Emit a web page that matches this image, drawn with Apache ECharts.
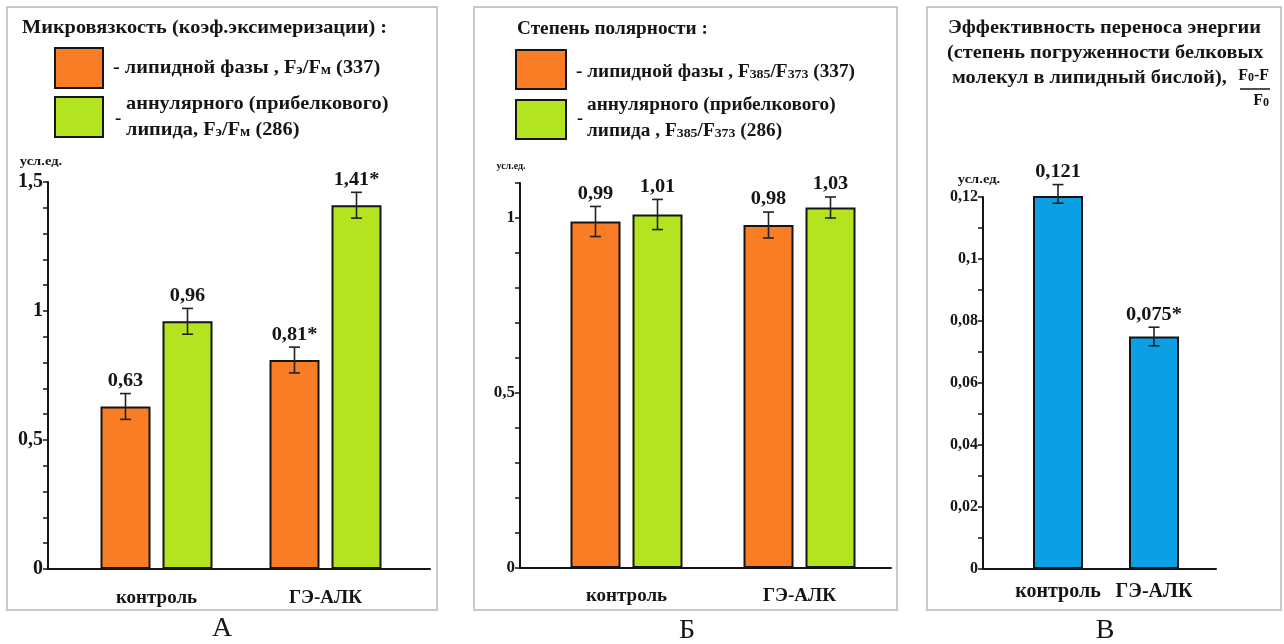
<!DOCTYPE html>
<html>
<head>
<meta charset="utf-8">
<script src="https://cdn.jsdelivr.net/npm/echarts@6/dist/echarts.min.js"></script>
<style>
  html, body { margin: 0; padding: 0; background: #ffffff; }
  #chart { width: 1284px; height: 644px; }
</style>
</head>
<body>
<div id="chart"></div>
<script>
// ---- data ----
const categories = ['контроль', 'ГЭ-АЛК'];

// A: microviscosity (excimerization coefficient)
const viscLipid = [0.63, 0.81];
const viscLipidErr = [0.05, 0.05];
const viscLipidSig = [false, true];
const viscAnnular = [0.96, 1.41];
const viscAnnularErr = [0.05, 0.05];
const viscAnnularSig = [false, true];
const viscTicks = [0, 0.5, 1, 1.5];

// Б: polarity
const polLipid = [0.99, 0.98];
const polLipidErr = [0.043, 0.037];
const polLipidSig = [false, false];
const polAnnular = [1.01, 1.03];
const polAnnularErr = [0.043, 0.03];
const polAnnularSig = [false, false];
const polTicks = [0, 0.5, 1];

// В: energy transfer efficiency
const transfer = [0.121, 0.075];
const transferErr = [0.003, 0.003];
const transferSig = [false, true];
const transferTicks = [0, 0.02, 0.04, 0.06, 0.08, 0.1, 0.12];

// ---- styling ----
const SERIF = '"Liberation Serif", "Times New Roman", serif';
const ORANGE = '#F97D24';
const GREEN = '#B4E31F';
const BLUE = '#0C9FE4';
const INK = '#151515';
const BAR_W = 50;
const BAR_GAP_PX = 12;
const WIDE = 1.07; // slightly widened lettering for headings

const fmt = v => String(+v.toFixed(4)).replace('.', ',');

function tickFormatter(list) {
  return v => list.some(t => Math.abs(t - v) < 1e-9) ? fmt(v) : '';
}

// axis-only grid + bar grid sharing the same value scale
function axisPair(gridIdx, max, interval, ticks, labelSize, catMargin, catSize) {
  return {
    x: [
      {
        gridIndex: gridIdx, type: 'category', data: [''],
        axisLine: { show: true, lineStyle: { color: INK, width: 2 } },
        axisTick: { show: false }, axisLabel: { show: false }
      },
      {
        gridIndex: gridIdx + 1, type: 'category', data: categories,
        axisLine: { show: false }, axisTick: { show: false },
        axisLabel: {
          interval: 0, hideOverlap: false, margin: catMargin, color: INK,
          fontFamily: SERIF, fontWeight: 'bold', fontSize: catSize
        }
      }
    ],
    y: [
      {
        gridIndex: gridIdx, type: 'value', min: 0, max: max, interval: interval,
        axisLine: { show: true, lineStyle: { color: INK, width: 2 } },
        axisTick: { show: true, length: 5, lineStyle: { color: INK, width: 1.5 } },
        splitLine: { show: false },
        axisLabel: {
          margin: 5, color: INK, fontFamily: SERIF, fontWeight: 'bold', fontSize: labelSize,
          formatter: tickFormatter(ticks), showMaxLabel: true
        }
      },
      {
        gridIndex: gridIdx + 1, type: 'value', min: 0, max: max, interval: interval,
        show: false, splitLine: { show: false }
      }
    ]
  };
}

function barSeries(axisIdx, values, color) {
  return {
    type: 'bar', xAxisIndex: axisIdx, yAxisIndex: axisIdx,
    data: values, barWidth: BAR_W, barGap: (BAR_GAP_PX / BAR_W * 100) + '%',
    itemStyle: { color: color, borderColor: INK, borderWidth: 2 },
    animation: false
  };
}

// error bar + value label drawn above it
function errorSeries(axisIdx, values, errs, sig, offset) {
  return {
    type: 'custom', xAxisIndex: axisIdx, yAxisIndex: axisIdx,
    data: values.map((v, i) => [i, v, errs[i]]),
    z: 10, animation: false,
    renderItem: function (params, api) {
      const i = api.value(0), v = api.value(1), e = api.value(2);
      const top = api.coord([i, v + e]);
      const bot = api.coord([i, v - e]);
      const x = top[0] + offset;
      const cap = 5.5;
      const st = { stroke: '#222', lineWidth: 1.6 };
      const label = fmt(v) + (sig[params.dataIndex] ? '*' : '');
      return {
        type: 'group',
        children: [
          { type: 'line', shape: { x1: x, y1: top[1], x2: x, y2: bot[1] }, style: st },
          { type: 'line', shape: { x1: x - cap, y1: top[1], x2: x + cap, y2: top[1] }, style: st },
          { type: 'line', shape: { x1: x - cap, y1: bot[1], x2: x + cap, y2: bot[1] }, style: st },
          {
            type: 'text', x: x, y: top[1] - 3, scaleX: WIDE,
            style: {
              text: label, align: 'center', verticalAlign: 'bottom',
              font: 'bold 19px ' + SERIF, fill: INK
            }
          }
        ]
      };
    }
  };
}

const pA = axisPair(0, 1.5, 0.1, viscTicks, 20, 20, 19);
const pB = axisPair(2, 1.1, 0.1, polTicks, 17, 19, 19);
const pC = axisPair(4, 0.12, 0.01, transferTicks, 16, 13, 20);

const half = (BAR_W + BAR_GAP_PX) / 2;

// ---- frames, headings, legends ----
function box(x1, y1, x2, y2) {
  return { type: 'rect', shape: { x: x1, y: y1, width: x2 - x1, height: y2 - y1 },
    style: { fill: 'none', stroke: '#c9c9c9', lineWidth: 2 }, z: 0 };
}
function txt(x, y, text, size, opts) {
  opts = opts || {};
  return {
    type: 'text', x: x, y: y, z: 5, scaleX: opts.scaleX || 1,
    style: {
      text: text, font: (opts.weight || 'bold') + ' ' + size + 'px ' + SERIF,
      fill: INK, align: opts.align || 'left', verticalAlign: 'middle',
      rich: opts.rich
    }
  };
}
function swatch(x, y, w, h, color) {
  return { type: 'rect', shape: { x: x, y: y, width: w, height: h }, z: 5,
    style: { fill: color, stroke: INK, lineWidth: 2 } };
}
const subRich = (size) => ({
  s: { font: 'bold ' + Math.round(size * 0.72) + 'px ' + SERIF, fill: INK, verticalAlign: 'bottom', padding: [4, 0, 0, 0] }
});
const H = { scaleX: WIDE };
const HR = (size) => ({ scaleX: WIDE, rich: subRich(size) });

const graphics = [
  box(7, 7, 437, 610),
  box(474, 7, 897, 610),
  box(927, 7, 1281, 610),

  // A
  txt(22, 28, 'Микровязкость (коэф.эксимеризации) :', 19, H),
  swatch(55, 48, 48, 40, ORANGE),
  swatch(55, 97, 48, 40, GREEN),
  txt(113, 68, '- липидной фазы , F{s|э}/F{s|м} (337)', 19, HR(19)),
  txt(126, 104, 'аннулярного (прибелкового)', 19, H),
  txt(115, 119, '-', 19),
  txt(126, 130, 'липида, F{s|э}/F{s|м} (286)', 19, HR(19)),
  txt(41, 162, 'усл.ед.', 13, { align: 'center', scaleX: 1.12 }),

  // Б
  txt(517, 29, 'Степень полярности :', 18, H),
  swatch(516, 50, 50, 39, ORANGE),
  swatch(516, 100, 50, 39, GREEN),
  txt(576, 72, '- липидной фазы , F{s|385}/F{s|373} (337)', 18, HR(18)),
  txt(587, 105, 'аннулярного (прибелкового)', 18, H),
  txt(577, 119, '-', 18),
  txt(587, 131, 'липида , F{s|385}/F{s|373} (286)', 18, HR(18)),
  txt(511, 166, 'усл.ед.', 10, { align: 'center' }),

  // В
  txt(948, 28, 'Эффективность переноса энергии', 19, H),
  txt(947, 53, '(степень погруженности белковых', 19, H),
  txt(952, 78, 'молекул в липидный бислой),', 19, H),
  txt(1269, 76, 'F{s|0}-F', 16, { align: 'right', rich: subRich(16) }),
  { type: 'line', shape: { x1: 1240, y1: 89, x2: 1270, y2: 89 }, style: { stroke: INK, lineWidth: 1.5 }, z: 5 },
  txt(1269, 101, 'F{s|0}', 16, { align: 'right', rich: subRich(16) }),
  txt(979, 180, 'усл.ед.', 13, { align: 'center', scaleX: 1.12 }),

  // panel letters
  txt(222, 629, 'А', 28, { weight: 'normal', align: 'center' }),
  txt(687, 631, 'Б', 28, { weight: 'normal', align: 'center' }),
  txt(1105, 631, 'В', 28, { weight: 'normal', align: 'center' })
];

const option = {
  backgroundColor: '#ffffff',
  animation: false,
  grid: [
    { left: 48, top: 182, width: 382, height: 387 },
    { left: 72, top: 182, width: 338, height: 387 },
    { left: 520, top: 183, width: 371, height: 385 },
    { left: 540, top: 183, width: 346, height: 385 },
    { left: 983, top: 197, width: 233, height: 372 },
    { left: 1010, top: 197, width: 192, height: 372 }
  ],
  xAxis: [].concat(pA.x, pB.x, pC.x),
  yAxis: [].concat(pA.y, pB.y, pC.y),
  series: [
    barSeries(1, viscLipid, ORANGE),
    barSeries(1, viscAnnular, GREEN),
    errorSeries(1, viscLipid, viscLipidErr, viscLipidSig, -half),
    errorSeries(1, viscAnnular, viscAnnularErr, viscAnnularSig, half),

    barSeries(3, polLipid, ORANGE),
    barSeries(3, polAnnular, GREEN),
    errorSeries(3, polLipid, polLipidErr, polLipidSig, -half),
    errorSeries(3, polAnnular, polAnnularErr, polAnnularSig, half),

    barSeries(5, transfer, BLUE),
    errorSeries(5, transfer, transferErr, transferSig, 0)
  ],
  graphic: graphics
};

const chart = echarts.init(document.getElementById('chart'), null, { renderer: 'canvas' });
chart.setOption(option);
</script>
</body>
</html>
